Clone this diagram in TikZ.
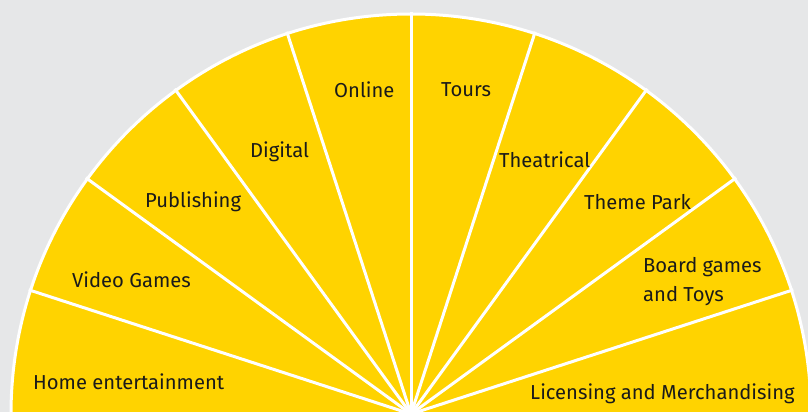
\documentclass[tikz,border=0pt]{standalone}
\usepackage{fontspec}
\setmainfont{Fira Sans}
\definecolor{bggray}{HTML}{E6E7E8}
\definecolor{fanyellow}{HTML}{FFD300}
\definecolor{labelink}{HTML}{1A1A1A}
\begin{document}
\begin{tikzpicture}[x=1pt,y=1pt,
  spoke/.style={white,line width=3pt},
  rim/.style={fill=fanyellow,draw=white,line width=3pt},
  seglabel/.style={anchor=west,inner sep=0pt,text=labelink,font=\fontsize{20.2}{29}\selectfont,align=left}]
  % canvas
  \fill[bggray] (0,0) rectangle (808,412);
  \useasboundingbox (0,0) rectangle (808,412);
  \begin{scope}
    \clip (0,0) rectangle (808,412);
    \coordinate (hub) at (411,-2);
    % half disc
    \draw[rim] (hub) ++(400,0) arc[start angle=0,end angle=180,radius=400] -- cycle;
    % dividers every 18 degrees
    \foreach \a in {18,36,...,162}{
      \draw[spoke] (hub) -- ++(\a:402);
    }
  \end{scope}
  % segment labels
  \node[seglabel] (online)   at (334,322) {Online};
  \node[seglabel] (tours)    at (441,322) {Tours};
  \node[seglabel] (digital)  at (250,260) {Digital};
  \node[seglabel] (theatre)  at (499,252) {Theatrical};
  \node[seglabel] (publish)  at (145,210) {Publishing};
  \node[seglabel] (themepk)  at (584,210) {Theme Park};
  \node[seglabel] (video)    at (72,132)  {Video Games};
  \node[seglabel] (board)    at (643,130.5) {Board games\\and Toys};
  \node[seglabel] (home)     at (33,30)   {Home entertainment};
  \node[seglabel] (licence)  at (530,18)  {Licensing and Merchandising};
\end{tikzpicture}
\end{document}
